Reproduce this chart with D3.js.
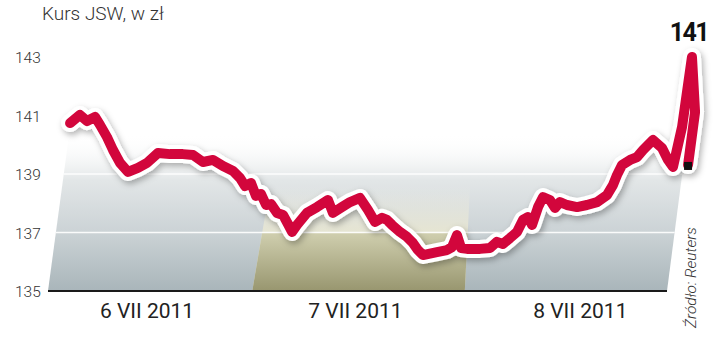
<!DOCTYPE html>
<html>
<head>
<meta charset="utf-8">
<script src="https://cdn.jsdelivr.net/npm/d3@7"></script>
<style>
  body { margin: 0; background: #fff; }
  text { font-family: Roboto, "DejaVu Sans", sans-serif; }
</style>
</head>
<body>
<div id="chart"></div>
<script>
// Kurs JSW, 6-8 VII 2011 (time in trading days from the start of 6 VII)
const times = [0.107, 0.155, 0.189, 0.228, 0.252, 0.286, 0.315, 0.349, 0.388, 0.436,
  0.480, 0.533, 0.591, 0.654, 0.703, 0.751, 0.800, 0.848, 0.897, 0.931,
  0.955, 0.984, 1.008, 1.032, 1.057, 1.081, 1.110, 1.139, 1.163, 1.183,
  1.207, 1.255, 1.304, 1.357, 1.381, 1.425, 1.464, 1.512, 1.551, 1.585,
  1.619, 1.643, 1.667, 1.706, 1.740, 1.769, 1.793, 1.817, 1.885, 1.934,
  1.958, 1.982, 2.002, 2.031, 2.094, 2.142, 2.176, 2.205, 2.239, 2.273,
  2.302, 2.326, 2.346, 2.375, 2.399, 2.433, 2.457, 2.481, 2.515, 2.564,
  2.612, 2.661, 2.709, 2.738, 2.758, 2.782, 2.821, 2.855, 2.884, 2.932,
  2.976, 3.005, 3.029, 3.073, 3.121, 3.136, 3.102];
const prices = [140.74, 141.02, 140.81, 140.95, 140.68, 140.26, 139.82, 139.38, 139.07, 139.21,
  139.38, 139.72, 139.68, 139.68, 139.65, 139.41, 139.48, 139.27, 139.10, 138.86,
  138.59, 138.69, 138.25, 138.32, 137.94, 137.97, 137.67, 137.60, 137.29, 137.02,
  137.26, 137.67, 137.87, 138.11, 137.67, 137.87, 138.04, 138.18, 137.77, 137.36,
  137.50, 137.43, 137.26, 137.02, 136.85, 136.64, 136.40, 136.23, 136.33, 136.40,
  136.50, 136.91, 136.47, 136.44, 136.44, 136.47, 136.68, 136.61, 136.81, 137.02,
  137.43, 137.53, 137.26, 137.87, 138.21, 138.11, 137.84, 138.04, 137.94, 137.87,
  137.94, 138.04, 138.28, 138.62, 138.97, 139.31, 139.48, 139.58, 139.82, 140.16,
  139.89, 139.48, 139.24, 140.61, 143.00, 141.12, 139.31];

const yTicks = [135, 137, 139, 141, 143];
const gridValues = [137, 139];
const dayLabels = ["6 VII 2011", "7 VII 2011", "8 VII 2011"];
const dayLabelPos = [0.48, 1.49, 2.58];
const dayBounds = [0, 0.99, 2.02, 3];
const title = "Kurs JSW, w zł";
const peakLabel = "141";
const source = "Źródło: Reuters";

const width = 720, height = 342;

const x = d3.scaleLinear().domain([0, 3]).range([48, 667]);
const y = d3.scaleLinear().domain([135, 143]).range([291, 57]);

const svg = d3.select("#chart")
  .append("svg")
  .attr("width", width)
  .attr("height", height);

const defs = svg.append("defs");

function vGradient(id, y1, y2, stops) {
  const g = defs.append("linearGradient")
    .attr("id", id)
    .attr("gradientUnits", "userSpaceOnUse")
    .attr("x1", 0).attr("x2", 0)
    .attr("y1", y1).attr("y2", y2);
  stops.forEach(s => g.append("stop")
    .attr("offset", s[0])
    .attr("stop-color", s[1])
    .attr("stop-opacity", s[2] === undefined ? 1 : s[2]));
}

const yBase = y(135);
const yTopGray = y(140.4);
vGradient("grayGrad", yTopGray, yBase, [
  [0, "#ffffff", 0], [0.3, "#e2e6e7"], [0.62, "#ccd3d6"], [1, "#a9b5ba"]
]);
vGradient("oliveGrad", y(137), yBase, [
  [0, "#d0cfaf"], [1, "#98966f"]
]);
vGradient("creamGrad", y(138.6), y(137), [
  [0, "#f1f0e4", 0], [1, "#e6e5d2"]
]);

const shadow = defs.append("filter")
  .attr("id", "shadow")
  .attr("x", "-10%").attr("y", "-10%")
  .attr("width", "120%").attr("height", "130%");
shadow.append("feDropShadow")
  .attr("dx", 2).attr("dy", 3)
  .attr("stdDeviation", 3)
  .attr("flood-color", "#000")
  .attr("flood-opacity", 0.3);

// slanted panel between two times, top at a price level
function panel(t0, t1, s0, s1, vTop) {
  const yt = y(vTop);
  const h = yBase - yt;
  return [
    [x(t0), yBase], [x(t1), yBase],
    [x(t1) + s1 * h, yt], [x(t0) + s0 * h, yt]
  ];
}

const grayPanel = panel(dayBounds[0], dayBounds[3], 0.135, 0.13, 140.4);

svg.append("polygon")
  .attr("points", grayPanel.join(" "))
  .attr("fill", "url(#grayGrad)");

svg.append("polygon")
  .attr("points", panel(dayBounds[1], dayBounds[2], 0.17, 0.05, 138.6).join(" "))
  .attr("fill", "url(#creamGrad)");

svg.append("polygon")
  .attr("points", panel(dayBounds[1], dayBounds[2], 0.17, 0.05, 137).join(" "))
  .attr("fill", "url(#oliveGrad)");

// white grid lines, clipped to the panel
defs.append("clipPath").attr("id", "panelClip")
  .append("polygon")
  .attr("points", grayPanel.join(" "));

svg.append("g")
  .attr("clip-path", "url(#panelClip)")
  .selectAll("line")
  .data(gridValues)
  .enter()
  .append("line")
  .attr("x1", 40).attr("x2", 700)
  .attr("y1", d => y(d)).attr("y2", d => y(d))
  .attr("stroke", "#fff")
  .attr("stroke-opacity", 0.9)
  .attr("stroke-width", 1.5);

// baseline
svg.append("line")
  .attr("x1", x(0)).attr("x2", x(3))
  .attr("y1", yBase).attr("y2", yBase)
  .attr("stroke", "#1a1a1a")
  .attr("stroke-width", 2);

// y tick labels
svg.selectAll(".ytick")
  .data(yTicks)
  .enter()
  .append("text")
  .attr("class", "ytick")
  .attr("x", 15)
  .attr("y", d => y(d))
  .attr("dy", "0.4em")
  .attr("font-size", 15.5)
  .attr("font-weight", 300)
  .attr("fill", "#333")
  .text(d => d);

// day labels
svg.selectAll(".day")
  .data(dayLabels)
  .enter()
  .append("text")
  .attr("class", "day")
  .attr("x", (d, i) => x(dayLabelPos[i]))
  .attr("y", 318)
  .attr("text-anchor", "middle")
  .attr("font-size", 21)
  .attr("fill", "#222")
  .text(d => d);

// title
svg.append("text")
  .attr("x", 42)
  .attr("y", 20)
  .attr("font-size", 19)
  .attr("font-weight", 300)
  .attr("fill", "#333")
  .text(title);

// price line
const points = times.map((t, i) => [t, prices[i]]);
const line = d3.line()
  .x(d => x(d[0]))
  .y(d => y(d[1]));

svg.append("path")
  .datum(points)
  .attr("d", line)
  .attr("fill", "none")
  .attr("stroke", "#fff")
  .attr("stroke-width", 18)
  .attr("stroke-linejoin", "round")
  .attr("stroke-linecap", "round")
  .attr("filter", "url(#shadow)");

svg.append("path")
  .datum(points)
  .attr("d", line)
  .attr("fill", "none")
  .attr("stroke", "#d2063c")
  .attr("stroke-width", 10)
  .attr("stroke-linejoin", "round")
  .attr("stroke-linecap", "round");

// end marker
const last = points[points.length - 1];
svg.append("rect")
  .attr("x", x(last[0]) - 4)
  .attr("y", y(last[1]) - 3)
  .attr("width", 8)
  .attr("height", 8)
  .attr("fill", "#111");

// peak label
const peak = points[d3.maxIndex(points, d => d[1])];
svg.append("text")
  .attr("x", x(peak[0]) - 3)
  .attr("y", 41)
  .attr("text-anchor", "middle")
  .attr("font-size", 25)
  .attr("font-weight", 700)
  .attr("letter-spacing", -1.5)
  .attr("fill", "#111")
  .text(peakLabel);

// source, rotated
svg.append("text")
  .attr("transform", "translate(696,328) rotate(-90)")
  .attr("font-size", 15.5)
  .attr("font-style", "italic")
  .attr("font-weight", 300)
  .attr("fill", "#333")
  .text(source);
</script>
</body>
</html>
